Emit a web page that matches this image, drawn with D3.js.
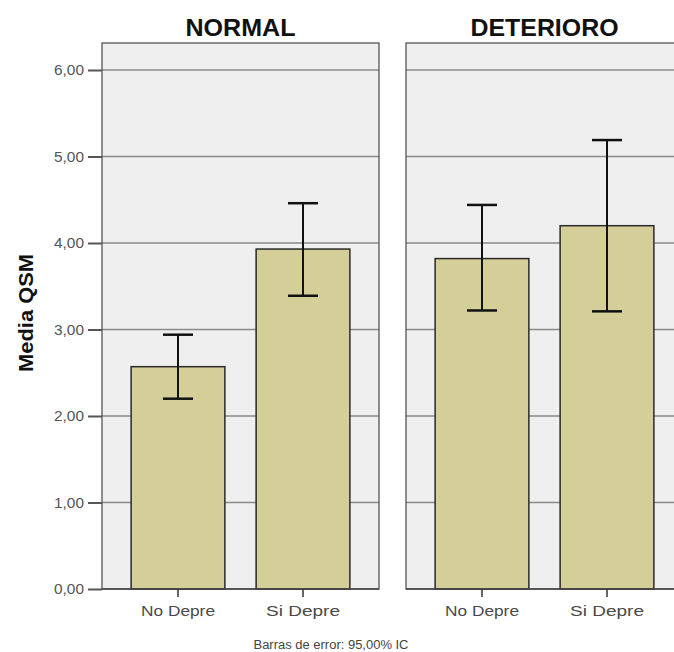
<!DOCTYPE html>
<html><head><meta charset="utf-8">
<script src="https://cdn.jsdelivr.net/npm/d3@7"></script>
<style>body{margin:0;background:#fff}svg{display:block}</style>
</head><body>
<script>
const panels = ["NORMAL", "DETERIORO"];
const categories = ["No Depre", "Si Depre"];
const means = [[2.57, 3.93], [3.82, 4.20]];
const lowerCI = [[2.20, 3.39], [3.22, 3.21]];
const upperCI = [[2.94, 4.46], [4.44, 5.19]];
const yTicks = [0, 1, 2, 3, 4, 5, 6];
const yLabel = "Media QSM";
const footnote = "Barras de error: 95,00% IC";

(function () {
const W = 674, H = 652;
const svg = d3.select("body").append("svg").attr("width", W).attr("height", H);
const fmt = d => d.toFixed(2).replace(".", ",");

const topY = 43, bottomY = 589;
const y = d3.scaleLinear().domain([0, 6]).range([bottomY, 70]);
const panelX = d3.scaleBand().domain(panels).range([102, 683]).paddingInner(27 / 304);
const pw = panelX.bandwidth();

const font = "'Liberation Sans', Arial, sans-serif";

panels.forEach((p, pi) => {
  const x0 = panelX(p);
  const g = svg.append("g");
  g.append("rect").attr("x", x0).attr("y", topY).attr("width", pw).attr("height", bottomY - topY)
    .attr("fill", "#efefef");
  g.selectAll(".grid").data(yTicks.filter(t => t > 0)).join("line")
    .attr("x1", x0).attr("x2", x0 + pw).attr("y1", d => y(d)).attr("y2", d => y(d))
    .attr("stroke", "#8a8a8a").attr("stroke-width", 1.6);
  g.append("rect").attr("x", x0).attr("y", topY).attr("width", pw).attr("height", bottomY - topY)
    .attr("fill", "none").attr("stroke", "#555").attr("stroke-width", 1.3);
  svg.append("text").attr("x", x0 + pw / 2).attr("y", 36)
    .attr("text-anchor", "middle").attr("font-family", font).attr("font-weight", "bold")
    .attr("font-size", 23).attr("fill", "#111")
    .attr("textLength", pi === 0 ? 110 : 148).attr("lengthAdjust", "spacingAndGlyphs").text(p);

  const x = d3.scaleBand().domain(categories).range([x0, x0 + pw]).paddingInner(0.25).paddingOuter(0.233);
  const data = categories.map((c, i) => ({c, m: means[pi][i], lo: lowerCI[pi][i], hi: upperCI[pi][i]}));
  g.selectAll(".bar").data(data).join("rect")
    .attr("x", d => x(d.c)).attr("width", x.bandwidth())
    .attr("y", d => y(d.m)).attr("height", d => y(0) - y(d.m))
    .attr("fill", "#d4cf98").attr("stroke", "#2a2a2a").attr("stroke-width", 1.5);
  const cx = d => x(d.c) + x.bandwidth() / 2;
  const eb = g.selectAll(".eb").data(data).join("g");
  eb.append("line").attr("x1", cx).attr("x2", cx).attr("y1", d => y(d.lo)).attr("y2", d => y(d.hi))
    .attr("stroke", "#111").attr("stroke-width", 2);
  eb.append("line").attr("x1", d => cx(d) - 15).attr("x2", d => cx(d) + 15).attr("y1", d => y(d.hi)).attr("y2", d => y(d.hi))
    .attr("stroke", "#111").attr("stroke-width", 2.5);
  eb.append("line").attr("x1", d => cx(d) - 15).attr("x2", d => cx(d) + 15).attr("y1", d => y(d.lo)).attr("y2", d => y(d.lo))
    .attr("stroke", "#111").attr("stroke-width", 2.5);
  g.append("line").attr("x1", x0).attr("x2", x0 + pw).attr("y1", bottomY).attr("y2", bottomY)
    .attr("stroke", "#444").attr("stroke-width", 1.5);
  const xa = svg.append("g").attr("transform", `translate(0,${bottomY})`)
    .call(d3.axisBottom(x).tickSize(8).tickSizeOuter(0).tickPadding(16));
  xa.select(".domain").remove();
  xa.selectAll(".tick line").attr("stroke", "#333").attr("stroke-width", 1.5);
  xa.selectAll(".tick text").attr("font-family", font).attr("font-size", 14).attr("fill", "#4a4a4a")
    .attr("dy", "0.2em")
    .attr("textLength", 74).attr("lengthAdjust", "spacingAndGlyphs");
});

const ya = svg.append("g").attr("transform", "translate(102,0)")
  .call(d3.axisLeft(y).tickValues(yTicks).tickFormat(fmt).tickSize(14).tickPadding(4));
ya.select(".domain").remove();
ya.selectAll(".tick line").attr("stroke", "#555").attr("stroke-width", 2);
ya.selectAll(".tick text").attr("font-family", font).attr("font-size", 14.5).attr("fill", "#555")
  .attr("textLength", 30).attr("lengthAdjust", "spacingAndGlyphs");

svg.append("text").attr("transform", "translate(33,313) rotate(-90)").attr("text-anchor", "middle")
  .attr("font-family", font).attr("font-weight", "bold").attr("font-size", 20).attr("fill", "#111")
  .attr("textLength", 118).attr("lengthAdjust", "spacingAndGlyphs").text(yLabel);

svg.append("text").attr("x", 331).attr("y", 649).attr("text-anchor", "middle")
  .attr("font-family", font).attr("font-size", 12).attr("fill", "#444")
  .attr("textLength", 155).attr("lengthAdjust", "spacingAndGlyphs").text(footnote);
})();
</script>
</body></html>
